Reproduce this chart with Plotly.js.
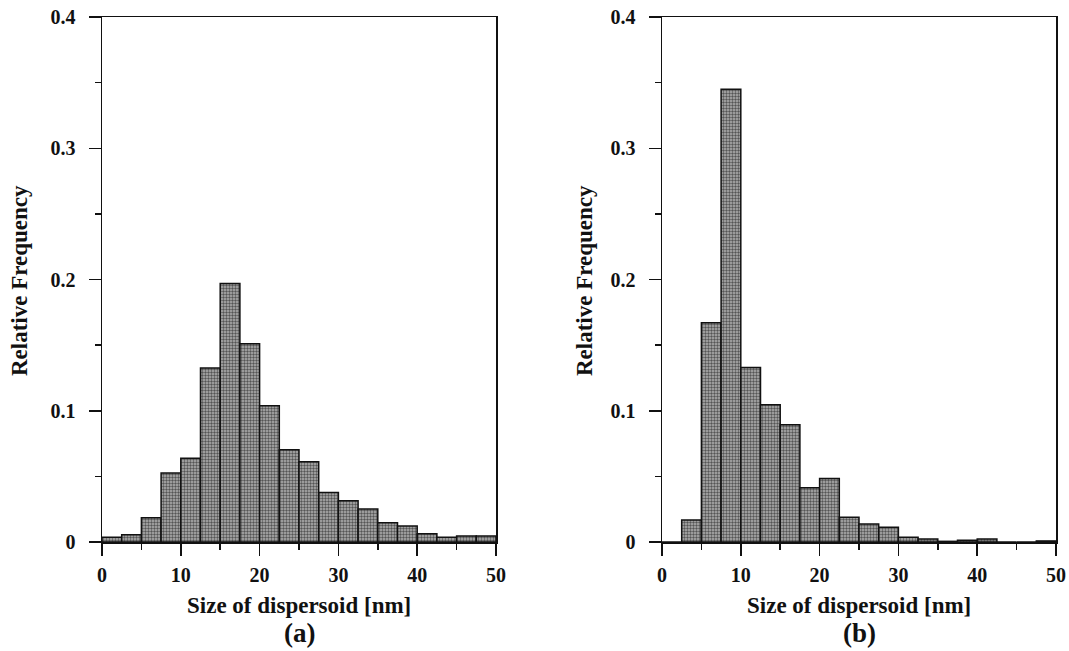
<!DOCTYPE html>
<html>
<head>
<meta charset="utf-8">
<script src="https://cdn.plot.ly/plotly-3.0.1.min.js"></script>
<style>html,body{margin:0;padding:0;background:#fff;}#chart{width:1069px;height:651px;}</style>
</head>
<body>
<div id="chart"></div>
<script>
// Bin centres (bin width 2.5 nm)
const binCenters = [1.25,3.75,6.25,8.75,11.25,13.75,16.25,18.75,21.25,23.75,26.25,28.75,31.25,33.75,36.25,38.75,41.25,43.75,46.25,48.75];
const binWidth = 2.5;
// Panel (a)
const freqA = [0.0036,0.0056,0.0185,0.0526,0.0638,0.1326,0.197,0.151,0.1039,0.0703,0.0612,0.0378,0.0315,0.0251,0.0147,0.0122,0.0063,0.0036,0.0046,0.0046];
// Panel (b)
const freqB = [0,0.0168,0.167,0.345,0.133,0.1046,0.0894,0.0414,0.0483,0.0188,0.0137,0.0112,0.0036,0.0023,0.0005,0.0013,0.0023,0,0,0.0008];
const yTickVals = [0,0.1,0.2,0.3,0.4];
const yTickText = ['0','0.1','0.2','0.3','0.4'];
const xTickVals = [0,10,20,30,40,50];
const xTitle = 'Size of dispersoid [nm]';
const yTitle = 'Relative Frequency';
const panelLabels = ['(a)','(b)'];

const serif = '"Liberation Serif", "Times New Roman", Times, serif';
function barTrace(y, xa, ya){
  return {
    type:'bar', x:binCenters, y:y, width:binWidth, xaxis:xa, yaxis:ya,
    marker:{color:'#9a9a9a', line:{color:'#111', width:1.5},
      pattern:{shape:'.', fgcolor:'#555', bgcolor:'#b2b2b2', size:3, solidity:0.5}},
    hoverinfo:'x+y', showlegend:false
  };
}
function xaxis(dom, anchor){
  return {domain:dom, anchor:anchor, range:[0,50], showline:true, mirror:true, linecolor:'#111', linewidth:1.5,
    ticks:'outside', ticklen:12, tickwidth:1.5, tickcolor:'#111', tickvals:xTickVals,
    minor:{ticks:'outside', ticklen:6, tickwidth:1.5, tickcolor:'#111', tickvals:[5,15,25,35,45]},
    showgrid:false, zeroline:false, fixedrange:true, ticklabelstandoff:2,
    tickfont:{family:serif, size:20, color:'#111', weight:'bold'}};
}
function yaxis(dom, anchor){
  return {domain:dom, anchor:anchor, range:[0,0.4], showline:true, mirror:true, linecolor:'#111', linewidth:1.5,
    ticks:'outside', ticklen:12, tickwidth:1.5, tickcolor:'#111', tickvals:yTickVals, ticktext:yTickText,
    ticklabelstandoff:9,
    minor:{ticks:'outside', ticklen:6, tickwidth:1.5, tickcolor:'#111', tickvals:[0.05,0.15,0.25,0.35]},
    showgrid:false, zeroline:false, fixedrange:true,
    tickfont:{family:serif, size:20, color:'#111', weight:'bold'}};
}
const W=1069, H=651;
const xd1=[102/W,496/W], xd2=[662/W,1056/W];
const yd=[(H-542)/H,(H-17)/H];
const titleFont={family:serif, size:23, color:'#111', weight:'bold'};
const panelFont={family:serif, size:27, color:'#111', weight:'bold'};
const ann=[
  {text:xTitle, x:(xd1[0]+xd1[1])/2, y:(H-605)/H, xref:'paper', yref:'paper', showarrow:false, font:titleFont, xanchor:'center', yanchor:'middle'},
  {text:xTitle, x:(xd2[0]+xd2[1])/2, y:(H-605)/H, xref:'paper', yref:'paper', showarrow:false, font:titleFont, xanchor:'center', yanchor:'middle'},
  {text:yTitle, x:19/W, y:(H-281)/H, xref:'paper', yref:'paper', showarrow:false, font:titleFont, textangle:-90, xanchor:'center', yanchor:'middle'},
  {text:yTitle, x:584/W, y:(H-281)/H, xref:'paper', yref:'paper', showarrow:false, font:titleFont, textangle:-90, xanchor:'center', yanchor:'middle'},
  {text:panelLabels[0], x:(xd1[0]+xd1[1])/2, y:(H-633)/H, xref:'paper', yref:'paper', showarrow:false, font:panelFont, xanchor:'center', yanchor:'middle'},
  {text:panelLabels[1], x:(xd2[0]+xd2[1])/2, y:(H-633)/H, xref:'paper', yref:'paper', showarrow:false, font:panelFont, xanchor:'center', yanchor:'middle'}
];
const layout={
  width:W, height:H, margin:{l:0,r:0,t:0,b:0}, paper_bgcolor:'#fff', plot_bgcolor:'#fff',
  bargap:0, showlegend:false,
  xaxis:xaxis(xd1,'y'), yaxis:yaxis(yd,'x'),
  xaxis2:xaxis(xd2,'y2'), yaxis2:yaxis(yd,'x2'),
  annotations:ann
};
Plotly.newPlot('chart',[barTrace(freqA,'x','y'),barTrace(freqB,'x2','y2')],layout,{displayModeBar:false,staticPlot:true});
</script>
</body>
</html>
